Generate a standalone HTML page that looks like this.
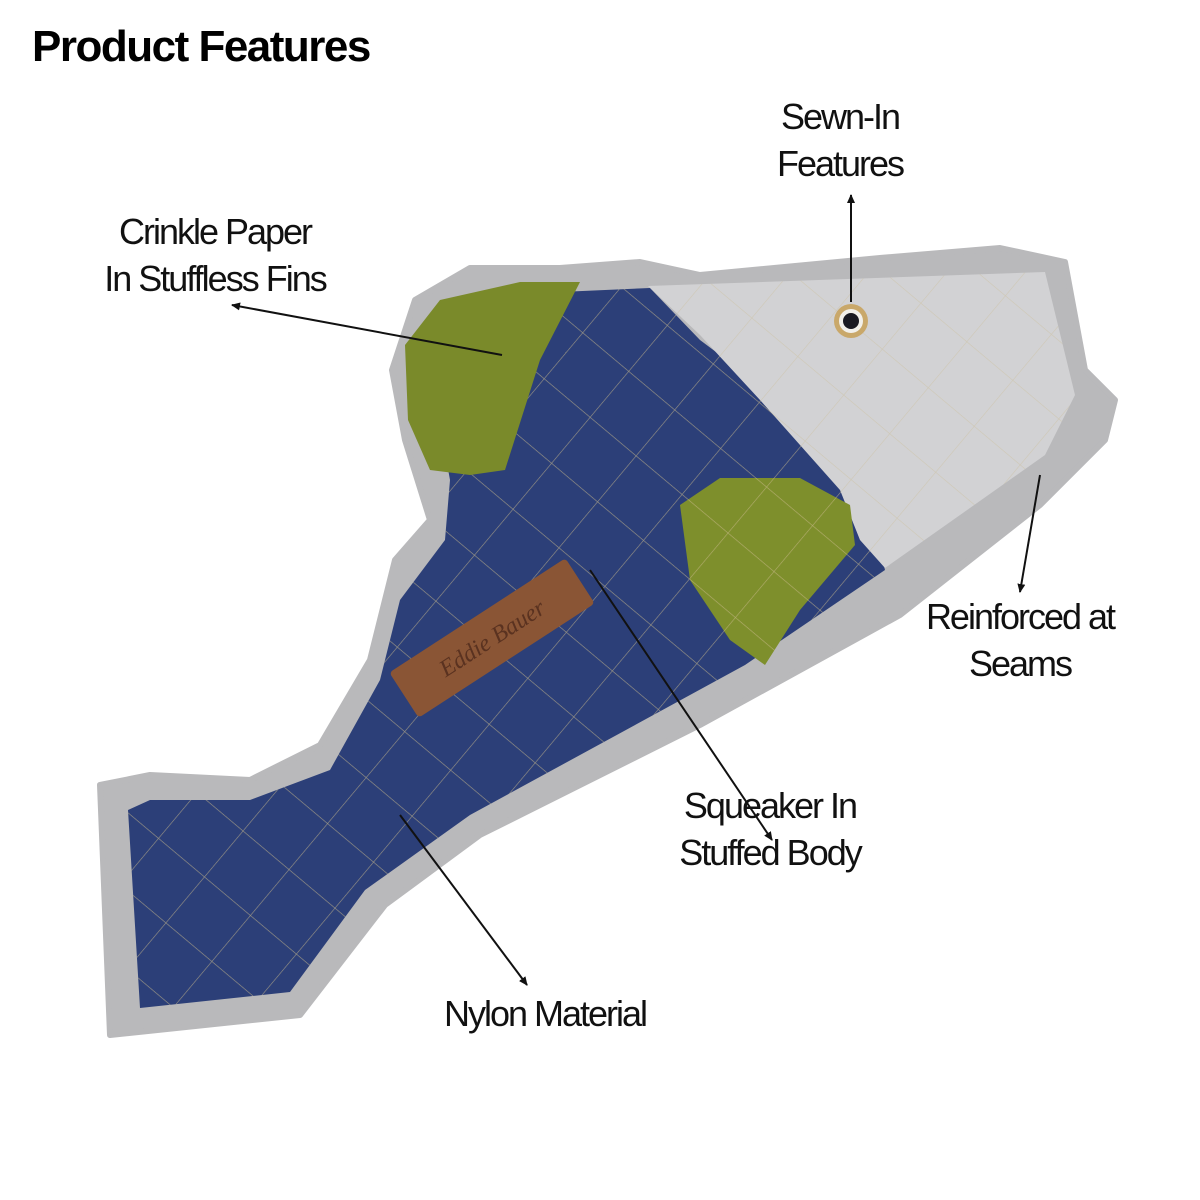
<!DOCTYPE html>
<html><head><meta charset="utf-8"><style>
html,body{margin:0;padding:0;background:#fff;}
.wrap{position:relative;width:1200px;height:1200px;overflow:hidden;}
svg{position:absolute;left:0;top:0;}
.t{position:absolute;font-family:"Liberation Sans",sans-serif;color:#111;font-size:36px;letter-spacing:-2px;line-height:47px;text-align:center;font-weight:normal;}
</style></head><body><div class="wrap">
<svg width="1200" height="1200" viewBox="0 0 1200 1200">
<defs>
<marker id="a" markerWidth="10" markerHeight="10" refX="8" refY="5" orient="auto" markerUnits="userSpaceOnUse"><path d="M0,1 L9,5 L0,9 Z" fill="#111"/></marker>
<pattern id="q" width="60" height="60" patternUnits="userSpaceOnUse" patternTransform="rotate(40)"><rect width="60" height="60" fill="none"/><path d="M0,0 H60 M0,0 V60" stroke="#c9b98a" stroke-width="1.2" opacity="0.7"/></pattern>
</defs>
<path d="M100,785 L110,1035 L300,1015 L385,905 L480,835 L700,725 L900,615 L1040,505 L1105,440 L1115,400 L1085,370 L1065,262 L1000,248 L880,258 L700,275 L640,262 L560,268 L470,268 L415,300 L392,370 L405,440 L430,520 L395,560 L370,660 L320,745 L250,780 L150,775 Z" fill="#b9b9bb" stroke="#b9b9bb" stroke-width="6" stroke-linejoin="round"/>
<path d="M128,810 L140,1008 L290,992 L365,890 L470,815 L745,665 L885,570 L860,470 L780,400 L700,340 L650,288 L560,292 L500,300 L450,330 L432,380 L450,480 L445,540 L400,600 L380,680 L330,770 L250,800 L150,800 Z" fill="#2c3f78"/>
<path d="M128,810 L140,1008 L290,992 L365,890 L470,815 L745,665 L885,570 L860,470 L780,400 L700,340 L650,288 L560,292 L500,300 L450,330 L432,380 L450,480 L445,540 L400,600 L380,680 L330,770 L250,800 L150,800 Z" fill="url(#q)"/>
<path d="M648,286 L1045,272 L1075,395 L1045,455 L885,568 L860,540 L840,490 L760,400 L700,335 Z" fill="#d2d2d4"/>
<path d="M648,286 L1045,272 L1075,395 L1045,455 L885,568 L860,540 L840,490 L760,400 L700,335 Z" fill="url(#q)" opacity="0.6"/>
<path d="M405,345 L440,300 L520,282 L580,282 L540,360 L505,470 L470,475 L430,470 L408,420 Z" fill="#7a8a2a"/>
<path d="M680,505 L720,478 L800,478 L850,505 L855,545 L800,610 L765,665 L730,640 L690,580 Z" fill="#7e8f2c"/>
<path d="M680,505 L720,478 L800,478 L850,505 L855,545 L800,610 L765,665 L730,640 L690,580 Z" fill="url(#q)"/>
<g transform="translate(492,638) rotate(-33)"><rect x="-105" y="-27" width="210" height="54" rx="4" fill="#8a5535"/><text x="0" y="8" font-family="Liberation Serif,serif" font-style="italic" font-size="24" fill="#5a3220" text-anchor="middle">Eddie Bauer</text></g>
<circle cx="851" cy="321" r="17" fill="#c9a86a"/><circle cx="851" cy="321" r="12" fill="#f2f0ea"/><circle cx="851" cy="321" r="8" fill="#1a1a22"/>
<g stroke="#111" stroke-width="2" fill="none">
<line x1="502" y1="355" x2="232" y2="305" marker-end="url(#a)"/>
<line x1="851" y1="302" x2="851" y2="195" marker-end="url(#a)"/>
<line x1="1040" y1="475" x2="1020" y2="592" marker-end="url(#a)"/>
<line x1="590" y1="570" x2="772" y2="840" marker-end="url(#a)"/>
<line x1="400" y1="815" x2="527" y2="985" marker-end="url(#a)"/>
</g>
</svg>
<div style="position:absolute;left:32px;top:22px;font-family:'Liberation Sans',sans-serif;font-weight:bold;font-size:44px;letter-spacing:-1.5px;color:#000;">Product Features</div>
<div class="t" style="left:710px;top:93px;width:260px;">Sewn-In<br>Features</div>
<div class="t" style="left:80px;top:208px;width:270px;">Crinkle Paper<br>In Stuffless Fins</div>
<div class="t" style="left:890px;top:593px;width:260px;">Reinforced at<br>Seams</div>
<div class="t" style="left:640px;top:782px;width:260px;">Squeaker In<br>Stuffed Body</div>
<div class="t" style="left:400px;top:990px;width:290px;">Nylon Material</div>
</div></body></html>
